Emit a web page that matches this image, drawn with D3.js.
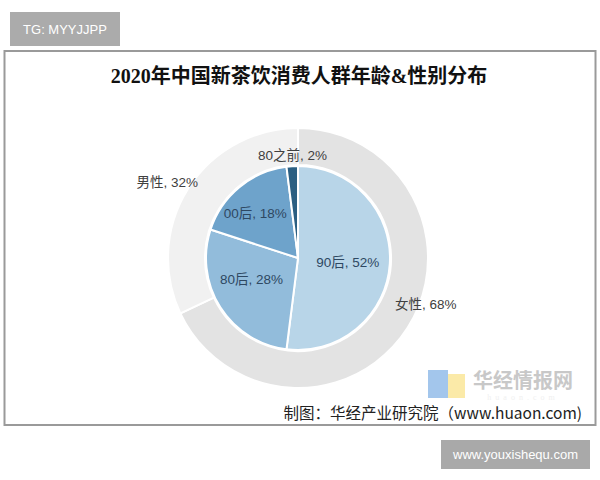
<!DOCTYPE html>
<html>
<head>
<meta charset="utf-8">
<script src="https://cdn.jsdelivr.net/npm/d3@7"></script>
<style>
  body { margin: 0; background: #fff; }
</style>
</head>
<body>
<div id="chart"></div>
<script>
// age groups (inner pie)
const ageLabels = ["90后", "80后", "00后", "80之前"];
const ageValues = [52, 28, 18, 2];
// gender (outer ring)
const genderLabels = ["女性", "男性"];
const genderValues = [68, 32];

const ageColors = ["#b8d5e8", "#92bcdb", "#6ea3cb", "#2b5f82"];
const genderColors = ["#e3e3e3", "#f1f1f1"];

const width = 600, height = 480;
const cx = 298, cy = 258;

const svg = d3.select("#chart").append("svg")
  .attr("width", width)
  .attr("height", height)
  .attr("viewBox", [0, 0, width, height]);

// top tag
svg.append("rect").attr("x", 10).attr("y", 12).attr("width", 110).attr("height", 34).attr("fill", "#ababab");
svg.append("text").attr("x", 65).attr("y", 29).attr("dy", "0.35em")
  .attr("text-anchor", "middle").attr("fill", "#fff")
  .style("font-family", "Arial, 'Liberation Sans', sans-serif").style("font-size", "13px")
  .text("TG: MYYJJPP");

// frame
svg.append("rect").attr("x", 4.5).attr("y", 51).attr("width", 591).attr("height", 374)
  .attr("fill", "#fff").attr("stroke", "#9a9a9a").attr("stroke-width", 2);

// title
svg.append("text").attr("x", 299).attr("y", 76).attr("dy", "0.35em")
  .attr("text-anchor", "middle").attr("fill", "#111")
  .style("font-family", "'Liberation Serif', 'Noto Sans CJK SC', serif")
  .style("font-size", "20px").style("font-weight", "bold")
  .text("2020年中国新茶饮消费人群年龄&性别分布");

const g = svg.append("g").attr("transform", `translate(${cx},${cy})`);

const pie = d3.pie().sort(null).value(d => d);

// outer ring
const ringArc = d3.arc().innerRadius(93).outerRadius(130);
g.selectAll("path.ring")
  .data(pie(genderValues))
  .join("path")
  .attr("class", "ring")
  .attr("d", ringArc)
  .attr("fill", (d, i) => genderColors[i])
  .attr("stroke", "#fff")
  .attr("stroke-width", 2);

// inner pie
const pieArc = d3.arc().innerRadius(0).outerRadius(92);
g.selectAll("path.age")
  .data(pie(ageValues))
  .join("path")
  .attr("class", "age")
  .attr("d", pieArc)
  .attr("fill", (d, i) => ageColors[i])
  .attr("stroke", "#fff")
  .attr("stroke-width", 2);

// label anchors, [angle in degrees clockwise from top, radius]
const ageLabelPos = [[94.6, 50], [245.5, 51], [316.3, 62], [357, 103]];
const genderLabelPos = [[110, 136], [300, 151]];
const rad = a => a * Math.PI / 180;

const labelFont = "'Liberation Sans', Arial, 'Noto Sans CJK SC', sans-serif";

g.selectAll("text.age")
  .data(pie(ageValues))
  .join("text")
  .attr("class", "age")
  .attr("transform", (d, i) => `translate(${d3.pointRadial(rad(ageLabelPos[i][0]), ageLabelPos[i][1])})`)
  .attr("dy", "0.35em")
  .attr("text-anchor", "middle")
  .attr("fill", (d, i) => i === 3 ? "#404040" : "#2e4862")
  .style("font-family", labelFont)
  .style("font-size", "13.5px")
  .text((d, i) => `${ageLabels[i]}, ${ageValues[i]}%`);

g.selectAll("text.gender")
  .data(pie(genderValues))
  .join("text")
  .attr("class", "gender")
  .attr("transform", (d, i) => `translate(${d3.pointRadial(rad(genderLabelPos[i][0]), genderLabelPos[i][1])})`)
  .attr("dy", "0.35em")
  .attr("text-anchor", "middle")
  .attr("fill", "#404040")
  .style("font-family", labelFont)
  .style("font-size", "13.5px")
  .text((d, i) => `${genderLabels[i]}, ${genderValues[i]}%`);

// watermark logo
svg.append("rect").attr("x", 428).attr("y", 370).attr("width", 20).attr("height", 28).attr("fill", "#a3c6ec");
svg.append("rect").attr("x", 448).attr("y", 374).attr("width", 17).attr("height", 24).attr("fill", "#fbeaa8");
svg.append("text").attr("x", 523).attr("y", 381).attr("dy", "0.35em")
  .attr("text-anchor", "middle").attr("fill", "#c8c8c8")
  .style("font-family", "'Noto Sans CJK SC', sans-serif").style("font-size", "20px").style("font-weight", "bold")
  .text("华经情报网");
svg.append("text").attr("x", 523).attr("y", 397).attr("dy", "0.35em")
  .attr("text-anchor", "middle").attr("fill", "#f0f0f0")
  .style("font-family", "'Liberation Serif', serif").style("font-size", "8px")
  .style("letter-spacing", "4px")
  .text("huaon.com");

// source
svg.append("text").attr("x", 582).attr("y", 414).attr("dy", "0.35em")
  .attr("text-anchor", "end").attr("fill", "#222")
  .style("font-family", "'Noto Sans CJK SC', sans-serif").style("font-size", "15.5px")
  .text("制图：华经产业研究院（www.huaon.com)");

// bottom tag
svg.append("rect").attr("x", 441).attr("y", 440).attr("width", 149).attr("height", 29).attr("fill", "#a9a9a9");
svg.append("text").attr("x", 515.5).attr("y", 454.5).attr("dy", "0.35em")
  .attr("text-anchor", "middle").attr("fill", "#fff")
  .style("font-family", "Arial, 'Liberation Sans', sans-serif").style("font-size", "13px")
  .text("www.youxishequ.com");
</script>
</body>
</html>
